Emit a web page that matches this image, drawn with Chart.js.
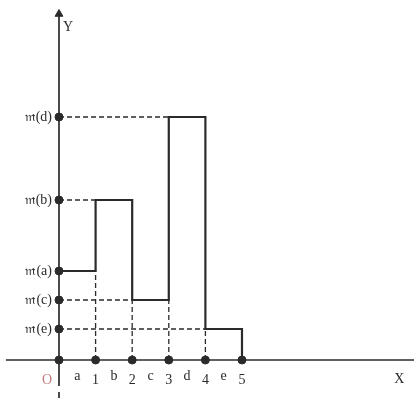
<!DOCTYPE html>
<html><head><meta charset="utf-8">
<script src="https://cdn.jsdelivr.net/npm/chart.js@4/dist/chart.umd.min.js"></script>
<style>html,body{margin:0;padding:0;background:#fff}#wrap{width:414px;height:400px}</style>
</head><body><div id="wrap"><canvas id="c" width="414" height="400"></canvas></div>
<script>
// Data
const xTicks = [0, 1, 2, 3, 4, 5];
const xTickLabels = ["O", "1", "2", "3", "4", "5"];
const intervals = ["a", "b", "c", "d", "e"];
const levels = [8.9, 16, 6, 24.3, 3.1];          // m(a), m(b), m(c), m(d), m(e)
const levelLabels = ["𝔪(a)", "𝔪(b)", "𝔪(c)", "𝔪(d)", "𝔪(e)"];
const axisLabels = {x: "X", y: "Y"};

const ink = "#2b2b2b";
// step function path
const stepPts = [];
for (let i = 0; i < intervals.length; i++) {
  stepPts.push({x: xTicks[i], y: levels[i]});
  stepPts.push({x: xTicks[i + 1], y: levels[i]});
}
stepPts.push({x: xTicks[5], y: 0});

const solid = (data, w) => ({data, borderColor: ink, borderWidth: w, pointRadius: 0, showLine: true, tension: 0});
const dashed = (data) => ({data, borderColor: ink, borderWidth: 1.3, borderDash: [5, 3], pointRadius: 0, showLine: true});

const datasets = [];
// axes
datasets.push(solid([{x: -1.45, y: 0}, {x: 9.8, y: 0}], 1.7));
datasets.push(solid([{x: 0, y: -2.6}, {x: 0, y: 34.6}], 1.7));
datasets.push(solid([{x: 0, y: -3.2}, {x: 0, y: -3.8}], 1.7));
datasets.push({data: [{x: 0, y: 34.6}], pointStyle: 'triangle', pointRadius: 4.5, backgroundColor: ink, borderColor: ink, showLine: false});
// dashed horizontal guides from y axis to the step
datasets.push(dashed([{x: 0, y: levels[3]}, {x: xTicks[3], y: levels[3]}]));
datasets.push(dashed([{x: 0, y: levels[1]}, {x: xTicks[1], y: levels[1]}]));
datasets.push(dashed([{x: 0, y: levels[2]}, {x: xTicks[2], y: levels[2]}]));
datasets.push(dashed([{x: 0, y: levels[4]}, {x: xTicks[4], y: levels[4]}]));
// dashed verticals
datasets.push(dashed([{x: xTicks[1], y: 0}, {x: xTicks[1], y: levels[0]}]));
datasets.push(dashed([{x: xTicks[2], y: 0}, {x: xTicks[2], y: levels[2]}]));
datasets.push(dashed([{x: xTicks[3], y: 0}, {x: xTicks[3], y: levels[2]}]));
datasets.push(dashed([{x: xTicks[4], y: 0}, {x: xTicks[4], y: levels[4]}]));
// step function
datasets.push(solid(stepPts, 2.2));
// dots
datasets.push({data: levels.map(v => ({x: 0, y: v})), showLine: false, pointRadius: 4, backgroundColor: ink, borderColor: ink});
datasets.push({data: xTicks.map(v => ({x: v, y: 0})), showLine: false, pointRadius: 4, backgroundColor: ink, borderColor: ink});

const labelPlugin = {
  id: 'labels',
  afterDatasetsDraw(chart) {
    const {ctx, scales: {x, y}} = chart;
    ctx.save();
    ctx.fillStyle = ink;
    ctx.textBaseline = 'middle';
    ctx.font = '14px "Liberation Serif", "DejaVu Serif", serif';
    ctx.textAlign = 'right';
    levels.forEach((v, i) => ctx.fillText(levelLabels[i], x.getPixelForValue(0) - 7, y.getPixelForValue(v)));
    ctx.textAlign = 'center';
    const ty = y.getPixelForValue(0) + 20;
    xTickLabels.forEach((t, i) => {
      if (i === 0) {
        ctx.fillStyle = '#c27a7a';
        ctx.fillText(t, x.getPixelForValue(xTicks[i]) - 12, ty);
        ctx.fillStyle = ink;
      } else ctx.fillText(t, x.getPixelForValue(xTicks[i]), ty);
    });
    intervals.forEach((t, i) => ctx.fillText(t, x.getPixelForValue((xTicks[i] + xTicks[i + 1]) / 2), ty - 4));
    ctx.fillText(axisLabels.x, x.getPixelForValue(9.3), ty - 1);
    ctx.fillText(axisLabels.y, x.getPixelForValue(0.25), y.getPixelForValue(33.3));
    ctx.restore();
  }
};

new Chart(document.getElementById('c'), {
  type: 'scatter',
  data: {datasets},
  options: {
    responsive: false, animation: false, events: [],
    layout: {padding: 0, autoPadding: false},
    plugins: {legend: {display: false}, tooltip: {enabled: false}},
    scales: {
      x: {type: 'linear', min: -1.612, max: 9.7, display: false},
      y: {type: 'linear', min: -4, max: 36, display: false}
    },
    elements: {line: {fill: false}}
  },
  plugins: [labelPlugin]
});
</script></body></html>
